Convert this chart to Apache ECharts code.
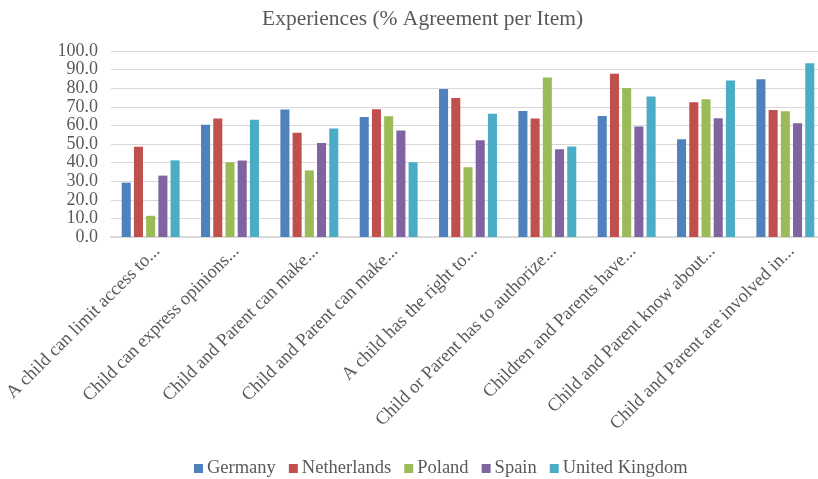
<!DOCTYPE html>
<html><head><meta charset="utf-8">
<script src="https://cdn.jsdelivr.net/npm/echarts@6/dist/echarts.min.js"></script>
<style>html,body{margin:0;padding:0;background:#fff}#c{width:818px;height:479px}</style>
</head><body><div id="c"></div>
<script>
const categories = [
  "A child can limit access to...",
  "Child can express opinions...",
  "Child and Parent can make...",
  "Child and Parent can make...",
  "A child has the right to...",
  "Child or Parent has to authorize...",
  "Children and Parents have...",
  "Child and Parent know about...",
  "Child and Parent are involved in..."
];
const germany      = [29.2, 60.4, 68.6, 64.5, 79.6, 67.7, 65.1, 52.5, 84.8];
const netherlands  = [48.5, 63.7, 56.1, 68.7, 74.7, 63.7, 87.8, 72.4, 68.3];
const poland       = [11.4, 40.2, 35.8, 64.9, 37.5, 85.7, 80.1, 74.0, 67.6];
const spain        = [33.0, 41.1, 50.5, 57.2, 52.0, 47.2, 59.4, 63.8, 61.1];
const unitedKingdom= [41.2, 63.1, 58.4, 40.2, 66.3, 48.6, 75.6, 84.1, 93.4];
const yTicks = [0, 100, 10];

const seriesNames = ["Germany","Netherlands","Poland","Spain","United Kingdom"];
const seriesData = [germany, netherlands, poland, spain, unitedKingdom];
const colors = ["#4f81bd","#c0504d","#9bbb59","#8064a2","#4bacc6"];
const font = "'Liberation Serif', 'DejaVu Serif', serif";

const chart = echarts.init(document.getElementById('c'));
chart.setOption({
  animation: false,
  color: colors,
  title: {
    text: "Experiences (% Agreement per Item)",
    left: 257, top: 3,
    textStyle: {fontFamily: font, fontSize: 21.5, fontWeight: 'normal', color: '#595959'}
  },
  legend: {
    top: 454, left: 189,
    itemWidth: 9, itemHeight: 9, itemGap: 13,
    icon: 'rect',
    textStyle: {fontFamily: font, fontSize: 18.5, color: '#595959', padding: [0,0,0,-1]},
    data: seriesNames
  },
  grid: {left: 111, width: 714, top: 51, bottom: 242, containLabel: false, outerBoundsMode: 'none'},
  xAxis: {
    type: 'category', data: categories,
    axisLine: {lineStyle: {color: '#d9d9d9', width: 2}},
    axisTick: {show: false},
    axisLabel: {rotate: 45, interval: 0, margin: 5, verticalAlign: 'top',
      fontFamily: font, fontSize: 18.4, color: '#595959'}
  },
  yAxis: {
    type: 'value', min: yTicks[0], max: yTicks[1], interval: yTicks[2],
    axisLine: {show: false}, axisTick: {show: false},
    splitLine: {lineStyle: {color: '#d9d9d9', width: 1}},
    axisLabel: {formatter: v => v.toFixed(1), margin: 13, fontFamily: font, fontSize: 18, color: '#595959'}
  },
  series: seriesNames.map((n, i) => ({
    name: n, type: 'bar', data: seriesData[i],
    barGap: '35%', barCategoryGap: '27%'
  }))
});
</script></body></html>
